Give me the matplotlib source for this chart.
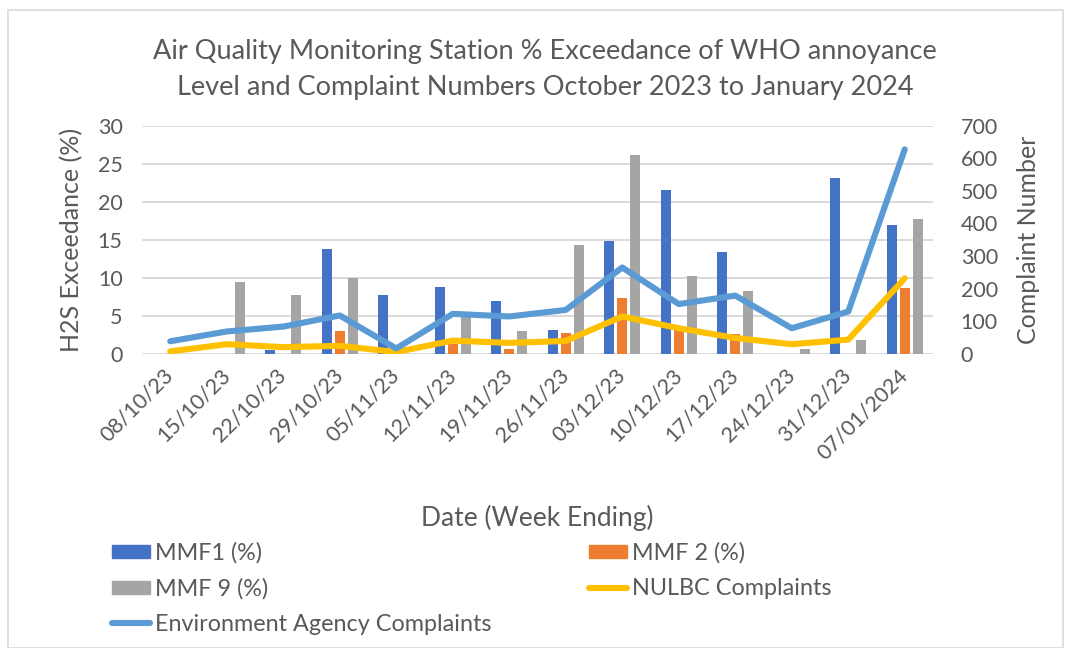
import matplotlib
matplotlib.use("Agg")
import matplotlib.pyplot as plt
import numpy as np
from matplotlib.patches import Rectangle
from matplotlib.lines import Line2D
from matplotlib.patches import Patch

plt.rcParams['font.family'] = ['Lato', 'DejaVu Sans']

dates = ["08/10/23", "15/10/23", "22/10/23", "29/10/23", "05/11/23", "12/11/23",
         "19/11/23", "26/11/23", "03/12/23", "10/12/23", "17/12/23", "24/12/23",
         "31/12/23", "07/01/2024"]
mmf1 = [0, 0, 0.5, 13.8, 7.7, 8.8, 7.0, 3.2, 14.9, 21.5, 13.4, 0, 23.1, 16.9]
mmf2 = [0, 0, 0, 3.0, 0, 1.3, 0.6, 2.8, 7.35, 3.2, 2.6, 0, 0, 8.7]
mmf9 = [0, 9.4, 7.7, 10.0, 0, 5.5, 3.0, 14.3, 26.15, 10.2, 8.3, 0.6, 1.9, 17.7]
nulbc = [8, 30, 21, 25, 6, 41, 34, 40, 115, 79, 49, 30, 44, 232]
ea = [39, 69, 84, 118, 17, 123, 115, 135, 265, 153, 179, 79, 130, 627]

C1, C2, C9 = "#4472C4", "#ED7D31", "#A5A5A5"
CN, CE = "#FFC000", "#5B9BD5"
TXT = "#595959"
GRID = "#D9D9D9"
LW = 4.4

fig = plt.figure(figsize=(10.66, 6.48), dpi=100)
ax = fig.add_axes([142/1066, 1-354/648, (933-142)/1066, (354-125.5)/648])
x = np.arange(len(dates))
w = 0.17
off = 0.23
ax.bar(x - off, mmf1, w, color=C1, zorder=2)
ax.bar(x, mmf2, w, color=C2, zorder=2)
ax.bar(x + off, mmf9, w, color=C9, zorder=2)
ax.set_xlim(-0.5, len(dates) - 0.5)
ax.set_ylim(0, 30)
ax.set_yticks(range(0, 31, 5))
ax.yaxis.grid(True, color=GRID, linewidth=1.4, zorder=0)
ax.set_axisbelow(True)
for s in ax.spines.values():
    s.set_visible(False)
ax.tick_params(axis='both', length=0, colors=TXT, labelsize=15.5)
ax.tick_params(axis='y', pad=14)
ax.set_xticks(x)
ax.set_xticklabels(dates, rotation=45, ha='right', rotation_mode='anchor')
for lab in ax.get_xticklabels():
    lab.set_va('center')
ax.tick_params(axis='x', pad=13)
ax.set_ylabel("H2S Exceedance (%)", fontsize=18, color=TXT, labelpad=10)
ax.set_xlabel("Date (Week Ending)", fontsize=19, color=TXT, labelpad=30)

ax2 = ax.twinx()
ax2.plot(x, nulbc, color=CN, linewidth=LW, solid_capstyle='round', solid_joinstyle='round', zorder=3)
ax2.plot(x, ea, color=CE, linewidth=LW, solid_capstyle='round', solid_joinstyle='round', zorder=4)
ax2.set_ylim(0, 700)
ax2.set_yticks(range(0, 701, 100))
for s in ax2.spines.values():
    s.set_visible(False)
ax2.tick_params(axis='y', length=0, colors=TXT, labelsize=15.5, pad=20)
ax2.set_ylabel("Complaint Number", fontsize=18, color=TXT, labelpad=14)

fig.text(545/1066, 1-52/648, "Air Quality Monitoring Station % Exceedance of WHO annoyance",
         ha='center', va='center', fontsize=19.5, color=TXT)
fig.text(545/1066, 1-88/648, "Level and Complaint Numbers October 2023 to January 2024",
         ha='center', va='center', fontsize=19.5, color=TXT)

handles = [Patch(color=C1), Patch(color=C9),
           Line2D([], [], color=CE, linewidth=LW, solid_capstyle='round'),
           Patch(color=C2),
           Line2D([], [], color=CN, linewidth=LW, solid_capstyle='round')]
labels = ["MMF1 (%)", "MMF 9 (%)", "Environment Agency Complaints", "MMF 2 (%)", "NULBC Complaints"]
leg = fig.legend(handles, labels, ncol=2, loc='upper left', bbox_to_anchor=(112/1066, 1-542/648),
                 frameon=False, fontsize=16.8, handlelength=1.63, handleheight=0.5, handletextpad=0.22,
                 labelspacing=0.62, columnspacing=4.15, labelcolor=TXT, borderpad=0, borderaxespad=0)

fig.patches.append(Rectangle((8/1066, 0), 1055/1066, 1-10/648, transform=fig.transFigure,
                             fill=False, edgecolor=GRID, linewidth=1.2))

fig.savefig("out.png", dpi=100, facecolor='white')
